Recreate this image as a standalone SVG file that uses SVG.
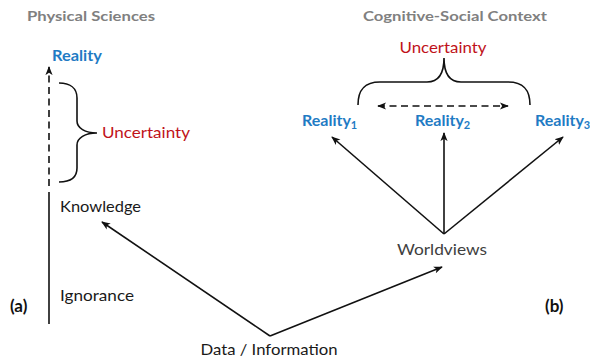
<svg xmlns="http://www.w3.org/2000/svg" width="590" height="363" viewBox="0 0 590 363">
  <style>
    text { font-family: Lato, "Liberation Sans", sans-serif; }
    .title { font-size: 14px; font-weight: bold; fill: #808080; text-anchor: middle; }
    .real { font-size: 16px; font-weight: bold; fill: #1f7bc4; }
    .unc { font-size: 16px; fill: #c0121a; text-anchor: middle; }
    .lbl { font-size: 16px; fill: #1a1a1a; }
    .panel { font-size: 17px; font-weight: bold; fill: #111; }
    .sub { font-size: 11px; }
    .ln { fill: none; stroke: #111; stroke-width: 1.6; }
    .dash { stroke-dasharray: 7 4.5; }
  </style>
  <defs>
    <marker id="head" viewBox="0 0 10 10" refX="9" refY="5" markerWidth="9" markerHeight="9" markerUnits="userSpaceOnUse" orient="auto-start-reverse">
      <path d="M0,1 L10,5 L0,9 L2.5,5 Z" fill="#111"/>
    </marker>
  </defs>

  <!-- panel headings -->
  <text class="title" x="91" y="21" textLength="128" lengthAdjust="spacingAndGlyphs">Physical Sciences</text>
  <text class="title" x="455" y="21" textLength="184" lengthAdjust="spacingAndGlyphs">Cognitive-Social Context</text>

  <!-- (a) physical sciences axis -->
  <g id="axis-a">
    <line class="ln dash" x1="49" y1="186" x2="49" y2="67" marker-end="url(#head)"/>
    <line class="ln" x1="49" y1="192" x2="49" y2="324"/>
  </g>
  <g id="reality-a">
    <text class="real" x="52" y="61" textLength="50" lengthAdjust="spacingAndGlyphs">Reality</text>
  </g>
  <g id="brace-a">
    <path class="ln" d="M59,83 C70,83 77,88 77,98 L77,121 C77,128 85,133 97,133 C85,133 77,138 77,145 L77,168 C77,178 70,182 59,182"/>
  </g>
  <g id="uncertainty-a">
    <text class="unc" x="146" y="138" textLength="88" lengthAdjust="spacingAndGlyphs">Uncertainty</text>
  </g>
  <g id="knowledge">
    <text class="lbl" x="60" y="212" textLength="81" lengthAdjust="spacingAndGlyphs">Knowledge</text>
  </g>
  <g id="ignorance">
    <text class="lbl" x="60" y="301" textLength="74" lengthAdjust="spacingAndGlyphs">Ignorance</text>
  </g>
  <text class="panel" x="10" y="312">(a)</text>

  <!-- shared source -->
  <g id="data">
    <text class="lbl" x="269" y="355" text-anchor="middle" textLength="137" lengthAdjust="spacingAndGlyphs">Data / Information</text>
  </g>

  <!-- (b) cognitive-social context -->
  <g id="worldviews">
    <text class="lbl" x="442" y="255" text-anchor="middle" fill="#404040" style="fill:#404040" textLength="90" lengthAdjust="spacingAndGlyphs">Worldviews</text>
  </g>
  <g id="uncertainty-b">
    <text class="unc" x="443" y="53" textLength="87" lengthAdjust="spacingAndGlyphs">Uncertainty</text>
  </g>
  <g id="brace-b">
    <path class="ln" d="M358,105 C358,90 364,82 380,82 L427,82 C438,82 444,75 444,58 C444,75 450,82 461,82 L508,82 C524,82 530,90 530,105"/>
  </g>
  <g id="reality-1">
    <text class="real" x="302" y="126">Reality<tspan class="sub" dy="3">1</tspan></text>
  </g>
  <g id="reality-2">
    <text class="real" x="415" y="126">Reality<tspan class="sub" dy="3">2</tspan></text>
  </g>
  <g id="reality-3">
    <text class="real" x="535" y="126">Reality<tspan class="sub" dy="3">3</tspan></text>
  </g>
  <text class="panel" x="545" y="312">(b)</text>

  <!-- connectors -->
  <g id="connectors">
    <line class="ln dash" x1="378" y1="106" x2="508" y2="106" marker-start="url(#head)" marker-end="url(#head)"/>
    <line class="ln" x1="270" y1="336" x2="102" y2="222" marker-end="url(#head)"/>
    <line class="ln" x1="270" y1="336" x2="442" y2="267" marker-end="url(#head)"/>
    <line class="ln" x1="444" y1="234" x2="332" y2="137" marker-end="url(#head)"/>
    <line class="ln" x1="444" y1="234" x2="444" y2="133" marker-end="url(#head)"/>
    <line class="ln" x1="444" y1="234" x2="563" y2="137" marker-end="url(#head)"/>
  </g>
</svg>
